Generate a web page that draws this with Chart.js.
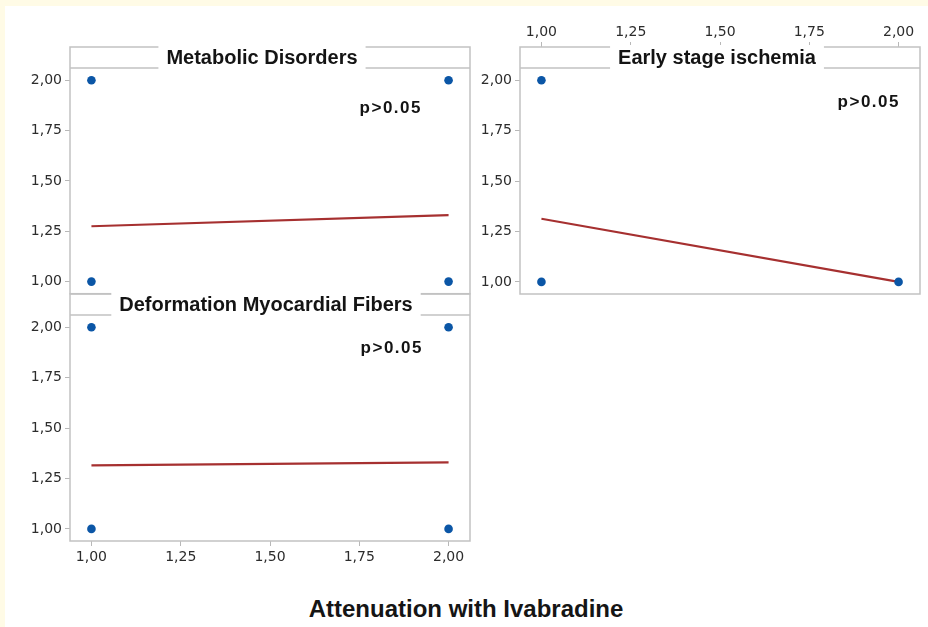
<!DOCTYPE html>
<html>
<head>
<meta charset="utf-8">
<script src="https://cdn.jsdelivr.net/npm/chart.js@4.4.1/dist/chart.umd.min.js"></script>
<style>
  html, body { margin: 0; padding: 0; background: #fff; }
  #page { position: absolute; left: 0; top: 0; width: 928px; height: 627px; overflow: hidden; background: #fff; }
  .cream { position: absolute; background: #fffbe6; }
  canvas { position: absolute; }
  #xTitle {
    position: absolute; left: 0; width: 932px; top: 597px;
    text-align: center; font: bold 24px "Liberation Sans", Arial, sans-serif;
    line-height: 24px; color: #151515;
  }
</style>
</head>
<body>
<div id="page">
  <div class="cream" style="left:0;top:0;width:928px;height:6px"></div>
  <div class="cream" style="left:0;top:0;width:5px;height:627px"></div>
  <canvas id="metabolic" width="480" height="258" style="left:0;top:40px;width:480px;height:258px"></canvas>
  <canvas id="deformation" width="480" height="293" style="left:0;top:287px;width:480px;height:293px"></canvas>
  <canvas id="ischemia" width="452" height="290" style="left:476px;top:10px;width:452px;height:290px"></canvas>
  <div id="xTitle">Attenuation with Ivabradine</div>
</div>
<script>
// tick values, shared by all three panels
const xTicks = [1, 1.25, 1.5, 1.75, 2];
const yTicks = [1, 1.25, 1.5, 1.75, 2];
const pLabel = "p>0.05";

// Metabolic Disorders
const metabolicX = [1, 1, 2, 2];
const metabolicY = [2, 1, 2, 1];
const metabolicFit = [1.275, 1.33];

// Deformation Myocardial Fibers
const deformationX = [1, 1, 2, 2];
const deformationY = [2, 1, 2, 1];
const deformationFit = [1.315, 1.33];

// Early stage ischemia
const ischemiaX = [1, 1, 2];
const ischemiaY = [2, 1, 1];
const ischemiaFit = [1.313, 1.0];

const fitX = [1, 2];

const BLUE = "#0b56a6";
const RED = "#a63030";
const FRAME = "#c2c2c2";
const HEADER = 21;

const fmt = v => Number(v).toFixed(2).replace(".", ",");

// frame, header strip with title and the p-value note
const panelDecor = {
  id: "panelDecor",
  afterDatasetsDraw(chart, args, opts) {
    const { left, top, right, bottom } = chart.chartArea;
    const ctx = chart.ctx;
    ctx.save();
    ctx.strokeStyle = FRAME;
    ctx.lineWidth = 1.5;
    ctx.strokeRect(left, top, right - left, bottom - top);
    ctx.beginPath();
    ctx.moveTo(left, top + HEADER);
    ctx.lineTo(right, top + HEADER);
    ctx.stroke();

    ctx.font = "bold 20px 'Liberation Sans', Arial, sans-serif";
    const w = ctx.measureText(opts.title).width;
    const cx = (left + right) / 2 + opts.titleShift;
    ctx.fillStyle = "#fff";
    ctx.fillRect(cx - w / 2 - 8, top - 2, w + 16, HEADER + 4);
    ctx.fillStyle = "#141414";
    ctx.textAlign = "center";
    ctx.textBaseline = "middle";
    ctx.fillText(opts.title, cx, top + HEADER / 2 + 1);

    ctx.font = "bold 17px 'Liberation Sans', Arial, sans-serif";
    ctx.letterSpacing = "1.5px";
    ctx.textAlign = "right";
    ctx.textBaseline = "alphabetic";
    ctx.fillText(pLabel, left + opts.pRight, top + opts.pBaseline);
    ctx.letterSpacing = "0px";
    ctx.restore();
  }
};

function makePanel(id, o) {
  const tickFont = { family: "'DejaVu Sans', sans-serif", size: 14 };
  return new Chart(document.getElementById(id), {
    type: "scatter",
    data: {
      datasets: [
        {
          data: o.xs.map((x, i) => ({ x, y: o.ys[i] })),
          backgroundColor: BLUE,
          borderWidth: 0,
          pointRadius: 4.3,
          pointHoverRadius: 4.3
        },
        {
          data: fitX.map((x, i) => ({ x, y: o.fit[i] })),
          showLine: true,
          borderColor: RED,
          borderWidth: 2.2,
          pointRadius: 0,
          fill: false
        }
      ]
    },
    options: {
      responsive: false,
      animation: false,
      events: [],
      layout: { padding: o.padding },
      plugins: {
        legend: { display: false },
        tooltip: { enabled: false },
        panelDecor: { title: o.title, titleShift: o.titleShift, pRight: o.pRight, pBaseline: o.pBaseline }
      },
      scales: {
        x: {
          type: "linear",
          min: 0.94,
          max: 2.06,
          display: o.showX,
          position: o.xPos,
          afterBuildTicks: s => { s.ticks = xTicks.map(v => ({ value: v })); },
          afterFit: s => { s.height = o.xHeight; s.paddingLeft = 0; s.paddingRight = 0; },
          ticks: { callback: fmt, font: tickFont, color: "#2c2c2c", padding: o.xPad, maxRotation: 0, autoSkip: false },
          grid: { drawOnChartArea: false, drawTicks: true, tickLength: 5, color: "#b8b8b8" },
          border: { display: false }
        },
        y: {
          type: "linear",
          min: 0.94,
          max: 2.165,
          afterBuildTicks: s => { s.ticks = yTicks.map(v => ({ value: v })); },
          afterFit: s => { s.width = o.yWidth; s.paddingTop = 0; s.paddingBottom = 0; },
          ticks: { callback: fmt, font: tickFont, color: "#2c2c2c", padding: 3, autoSkip: false },
          grid: { drawOnChartArea: false, drawTicks: true, tickLength: 5, color: "#b8b8b8" },
          border: { display: false }
        }
      }
    },
    plugins: [panelDecor]
  });
}

makePanel("metabolic", {
  title: "Metabolic Disorders", titleShift: -8,
  xs: metabolicX, ys: metabolicY, fit: metabolicFit,
  showX: false, xPos: "bottom", xHeight: 0, xPad: 3, yWidth: 70,
  padding: { top: 7, right: 10, bottom: 4, left: 0 },
  pRight: 352, pBaseline: 66
});

makePanel("deformation", {
  title: "Deformation Myocardial Fibers", titleShift: -4,
  xs: deformationX, ys: deformationY, fit: deformationFit,
  showX: true, xPos: "bottom", xHeight: 39, xPad: 3, yWidth: 70,
  padding: { top: 7, right: 10, bottom: 0, left: 0 },
  pRight: 353, pBaseline: 59
});

makePanel("ischemia", {
  title: "Early stage ischemia", titleShift: -3,
  xs: ischemiaX, ys: ischemiaY, fit: ischemiaFit,
  showX: true, xPos: "top", xHeight: 37, xPad: 1, yWidth: 44,
  padding: { top: 0, right: 8, bottom: 6, left: 0 },
  pRight: 380, pBaseline: 60
});
</script>
</body>
</html>
